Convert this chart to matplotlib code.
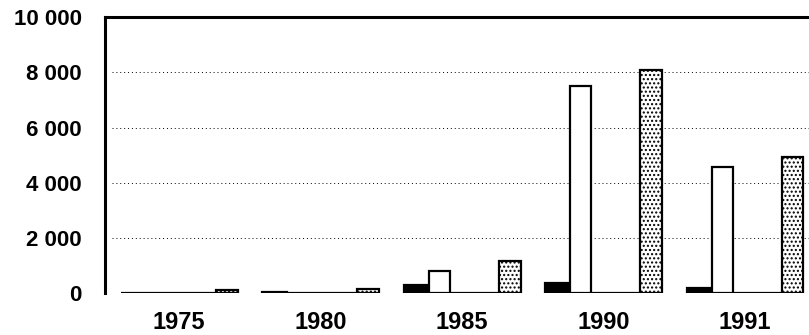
import matplotlib.pyplot as plt
import numpy as np

plt.rcParams['font.family'] = ['Liberation Sans', 'DejaVu Sans']
plt.rcParams['hatch.linewidth'] = 1.0

years = ['1975', '1980', '1985', '1990', '1991']
series_a = [20, 40, 280, 350, 190]       # solid black
series_b = [10, 10, 800, 7500, 4570]     # white
series_c = [0, 0, 0, 0, 0]               # white, flat
series_d = [130, 160, 1150, 8100, 4920]  # dotted
yticks = [0, 2000, 4000, 6000, 8000, 10000]
ytick_labels = ['0', '2 000', '4 000', '6 000', '8 000', '10 000']

fig = plt.figure(figsize=(8.09, 3.35), dpi=100)
ax = fig.add_axes([0.13, 0.125, 0.87, 0.824])

x = np.arange(len(years))
widths = [0.177, 0.148, 0.346, 0.155]
left = -sum(widths) / 2
styles = [
    dict(color='black', edgecolor='black'),
    dict(color='white', edgecolor='black'),
    dict(color='white', edgecolor='black'),
    dict(color='white', edgecolor='black', hatch='....'),
]
for vals, w, st in zip([series_a, series_b, series_c, series_d], widths, styles):
    ax.bar(x + left, vals, width=w, align='edge', linewidth=1.6, zorder=3, **st)
    left += w

ax.set_ylim(0, 10000)
ax.set_xlim(-0.523, 4.452)
ax.set_yticks(yticks)
ax.set_yticklabels(ytick_labels, fontsize=16, fontweight='bold')
ax.set_xticks(x)
ax.set_xticklabels(years, fontsize=17, fontweight='bold')
ax.tick_params(axis='y', length=0, pad=17)
ax.tick_params(axis='x', length=0, pad=13)

for y in yticks[1:-1]:
    ax.axhline(y, xmin=0.01, color='black', linestyle=(0, (1, 3)), linewidth=0.7, zorder=1)

ax.spines['right'].set_visible(False)
ax.spines['bottom'].set_visible(False)
ax.spines['left'].set_linewidth(2.2)
ax.spines['top'].set_linewidth(2.2)

fig.savefig('out.png', dpi=100)
